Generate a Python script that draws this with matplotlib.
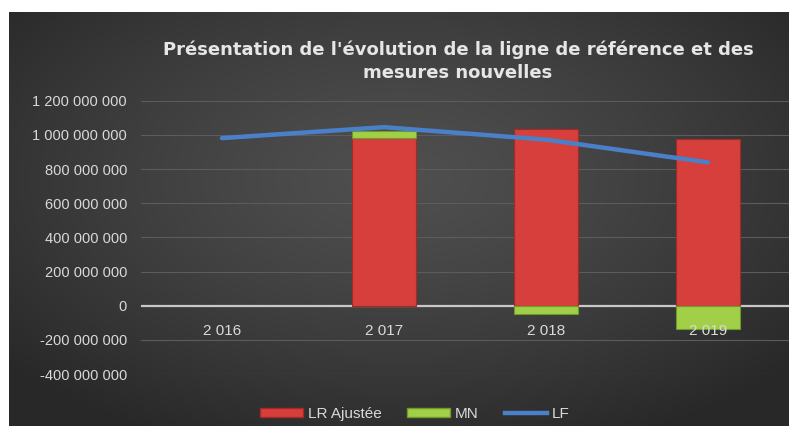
import numpy as np
import matplotlib
matplotlib.use("Agg")
import matplotlib.pyplot as plt
from matplotlib.ticker import FuncFormatter
from matplotlib.patches import Patch
from matplotlib.lines import Line2D

categories = ["2 016", "2 017", "2 018", "2 019"]
lr_ajustee = [0, 984e6, 1035e6, 977e6]
mn = [0, 38e6, -50e6, -136e6]
lf = [981e6, 1045e6, 972e6, 839e6]
yticks = [-400e6, -200e6, 0, 200e6, 400e6, 600e6, 800e6, 1000e6, 1200e6]
title = "Présentation de l'évolution de la ligne de référence et des\nmesures nouvelles"

font = "Liberation Sans"

W, H = 799, 437
fig = plt.figure(figsize=(W / 100, H / 100), dpi=100)
fig.patch.set_facecolor("white")

# gradient background for chart area
bx0, bx1, by0, by1 = 9, 789, 12, 426
bg = fig.add_axes([bx0 / W, 1 - by1 / H, (bx1 - bx0) / W, (by1 - by0) / H])
gx = np.linspace(-1, 1, 400)
gy = np.linspace(-1, 1, 220)
X, Y = np.meshgrid(gx, gy)
R = np.sqrt((X * 0.95) ** 2 + ((Y + 0.2) * 0.9) ** 2)
R = np.clip(R, 0, 1.25) / 1.25
val = 0.31 - 0.15 * R ** 1.3
img = np.dstack([val, val, val])
bg.imshow(img, aspect="auto", extent=[0, 1, 0, 1], interpolation="bilinear")
bg.set_axis_off()

ax = fig.add_axes([141 / W, 1 - 374 / H, (789 - 141) / W, (374 - 100.7) / H])
ax.set_facecolor("none")

x = np.arange(len(categories))
width = 0.4
red = "#d63f3b"
green = "#a2cf48"
blue = "#4a80c8"

lw_lr = [0.8 if v != 0 else 0 for v in lr_ajustee]
lw_mn = [0.8 if v != 0 else 0 for v in mn]
ax.bar(x, lr_ajustee, width, color=red, edgecolor="#a52a27", linewidth=lw_lr, zorder=3)
mn_bottom = [l if m >= 0 else 0 for l, m in zip(lr_ajustee, mn)]
ax.bar(x, mn, width, bottom=mn_bottom, color=green, edgecolor="#6f9a2a", linewidth=lw_mn, zorder=3)

ax.plot(x, lf, color=blue, linewidth=3.2, solid_capstyle="round", zorder=4)

ax.set_xlim(-0.5, len(categories) - 0.5)
ax.set_ylim(-400e6, 1200e6)
ax.set_yticks(yticks)
ax.yaxis.set_major_formatter(FuncFormatter(lambda v, p: f"{int(round(v)):,}".replace(",", " ")))
ax.grid(axis="y", color="#5c5c5c", linewidth=0.8, zorder=0)
ax.axhline(0, color="#c8c8c8", linewidth=1.6, zorder=2)
for s in ax.spines.values():
    s.set_visible(False)
ax.tick_params(axis="y", length=0, colors="#d9d9d9", labelsize=10.5, pad=10)
for lab in ax.get_yticklabels():
    lab.set_fontfamily(font)
ax.set_xticks([])
for xi, c in zip(x, categories):
    ax.text(xi, -148e6, c, ha="center", va="center", color="#d9d9d9", fontsize=11,
            family=font, zorder=5)

fig.text(458 / W, 1 - 61 / H, title, ha="center", va="center", color="#e6e6e6",
         fontsize=13, fontweight="bold", linespacing=1.35, family="DejaVu Sans")

handles = [Patch(facecolor=red, edgecolor="#a52a27"),
           Patch(facecolor=green, edgecolor="#6f9a2a"),
           Line2D([0], [0], color=blue, linewidth=3.2)]
leg = fig.legend(handles, ["LR Ajustée", "MN", "LF"], loc="center", bbox_to_anchor=(415 / W, 1 - 414 / H),
                 ncol=3, frameon=False, prop={"family": font, "size": 11}, labelcolor="#d9d9d9",
                 handlelength=2.8, handleheight=0.6, columnspacing=1.7, handletextpad=0.3)

fig.savefig("out.png", dpi=100)
